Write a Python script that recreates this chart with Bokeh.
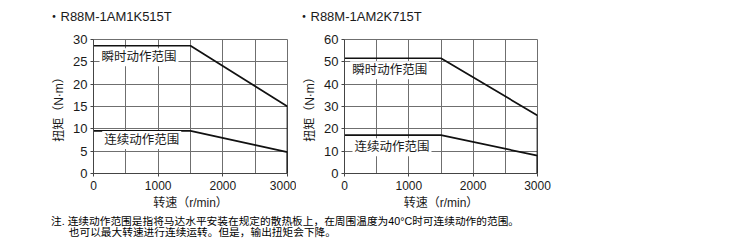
from bokeh.plotting import figure
from bokeh.layouts import column, row
from bokeh.models import Range1d, FixedTicker, Label, ColumnDataSource
from bokeh.core.properties import value
from bokeh.embed import file_html
from bokeh.resources import INLINE

FONT = "Liberation Sans, Noto Sans CJK SC"

speed = [0, 1500, 3000, 3000]
titles = ["・R88M-1AM1K515T", "・R88M-1AM2K715T"]
peak_1 = [28.6, 28.6, 15.0, 0.0]
cont_1 = [9.55, 9.55, 4.8, 0.0]
peak_2 = [51.6, 51.6, 26.0, 0.0]
cont_2 = [17.2, 17.2, 8.0, 0.0]
ymax = [30, 60]
ystep = [5, 10]
x_ticks = [0, 1000, 2000, 3000]
x_minor = [500, 1500, 2500]
label_peak = "瞬时动作范围"
label_cont = "连续动作范围"
x_label = "转速（r/min）"
y_label = "扭矩（N·m）"
notes = ["注. 连续动作范围是指将马达水平安装在规定的散热板上，在周围温度为40°C时可连续动作的范围。",
         "也可以最大转速进行连续运转。但是，输出扭矩会下降。"]

GRID = "#6f6f6f"
TEXT = "#1a1a1a"


def text_strip(height, xs, ys, texts, size, color):
    f = figure(width=732, height=height, output_backend="svg", toolbar_location=None,
               x_range=Range1d(0, 732), y_range=Range1d(height, 0),
               min_border=0, min_border_left=0, min_border_right=0,
               min_border_top=0, min_border_bottom=0)
    f.axis.visible = False
    f.grid.visible = False
    f.outline_line_color = None
    f.text(x=xs, y=ys, text=texts, text_font=value(FONT), text_font_size=size,
           text_color=color, text_baseline="middle", text_align="left")
    return f


def make_chart(i, peak, cont, width, bl, br, peak_pos, cont_pos):
    p = figure(width=width, height=187, output_backend="svg", toolbar_location=None,
               x_range=Range1d(0, 3000), y_range=Range1d(0, ymax[i]),
               min_border_left=bl, min_border_right=br, min_border_top=14, min_border_bottom=39)
    p.outline_line_color = GRID
    p.outline_line_width = 1
    p.background_fill_color = "white"
    p.border_fill_color = "white"

    p.xaxis.ticker = FixedTicker(ticks=x_ticks, minor_ticks=x_minor)
    p.yaxis.ticker = FixedTicker(ticks=list(range(0, ymax[i] + 1, ystep[i])))
    for ax in (p.xaxis[0], p.yaxis[0]):
        ax.axis_line_color = "#444444"
        ax.axis_line_width = 1
        ax.major_tick_line_color = "#444444"
        ax.major_tick_in = 0
        ax.major_tick_out = 3
        ax.minor_tick_line_color = None
        ax.major_label_text_font = FONT
        ax.major_label_text_color = TEXT
        ax.axis_label_text_font = FONT
        ax.axis_label_text_font_style = "normal"
        ax.axis_label_text_font_size = "12px"
        ax.axis_label_text_color = TEXT
    p.xaxis.major_label_text_font_size = "12px"
    p.yaxis.major_label_text_font_size = "13px"
    p.xaxis.major_label_standoff = 3
    p.yaxis.major_label_standoff = 3
    p.xaxis.axis_label = x_label
    p.yaxis.axis_label = y_label
    p.xaxis.axis_label_standoff = 3
    p.yaxis.axis_label_standoff = 4

    p.xgrid.grid_line_color = GRID
    p.xgrid.minor_grid_line_color = GRID
    p.ygrid.grid_line_color = GRID
    p.xgrid.grid_line_width = 1
    p.ygrid.grid_line_width = 1

    src_p = ColumnDataSource(dict(x=speed, y=peak))
    src_c = ColumnDataSource(dict(x=speed, y=cont))
    p.line("x", "y", source=src_p, line_color="#111111", line_width=1.7)
    p.line("x", "y", source=src_c, line_color="#111111", line_width=1.7)

    for txt, (lx, ly) in ((label_peak, peak_pos), (label_cont, cont_pos)):
        p.add_layout(Label(x=lx, y=ly, text=txt, text_font=FONT, text_font_size="12.5px",
                           text_color=TEXT, text_baseline="middle", text_align="left",
                           background_fill_color="white", padding=2))
    return p


ph = text_strip(25, [47, 297], [15.5, 15.5], titles, "13px", TEXT)
p1 = make_chart(0, peak_1, cont_1, 296, 93, 9, (93, 26.0), (135, 7.5))
p2 = make_chart(1, peak_2, cont_2, 436, 48, 195, (88, 46.2), (124, 11.7))
pn = text_strip(39, [50.5, 68.3], [8.7, 19.8], notes, "10.7px", "#000000")

layout = column(ph, row(p1, p2), pn)
open("out.html", "w").write(file_html(layout, INLINE))
